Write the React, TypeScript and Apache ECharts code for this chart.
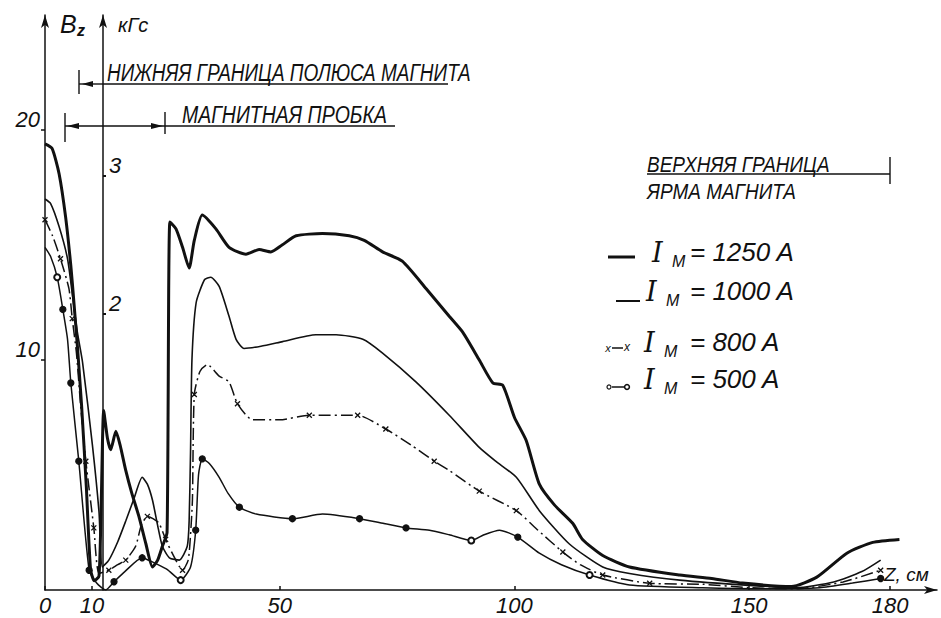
import React, { useEffect, useRef } from "react";
import * as echarts from "echarts";

// z, cm  (x axis) tick labels
const xTickLabels = [0, 10, 50, 100, 150, 180];
// B_z tick labels (left axis)
const yTickLabels = [10, 20];
// kG tick labels (inner axis)
const kgTickLabels = [2, 3];

const seriesNames = ["I_M = 1250 A", "I_M = 1000 A", "I_M = 800 A", "I_M = 500 A"];

// [z, Bz]
const b1250 = [
  [0, 19.4], [1.5, 19.2], [3, 18.1], [4.4, 16.2], [5.5, 14.1], [6.2, 12.4], [6.9, 10.6],
  [7.8, 8.0], [8.8, 4.5], [9.7, 0.9], [10.5, 0.4], [11.5, 0.6], [12.0, 4.0], [12.5, 7.8],
  [13.3, 6.6], [14, 6.1], [15.1, 6.9], [16, 6.3], [17.2, 5.2], [18.5, 4.2], [20, 3.2],
  [21.5, 2.0], [22.9, 1.0], [24, 1.3], [25, 1.9], [26, 2.5], [26.6, 16.0], [27.9, 15.7],
  [29.3, 14.9], [30.7, 14.0], [31.8, 15.2], [33.5, 16.3], [36.4, 15.7], [39.2, 14.9],
  [42.8, 14.6], [45.6, 14.8], [48.1, 14.7], [50.5, 15.0], [53.5, 15.4], [59.1, 15.5],
  [64.8, 15.4], [68, 15.2], [71.9, 14.7], [76.1, 14.3], [81.2, 13.1], [86.1, 11.9],
  [89, 11.2], [92.5, 10.0], [95.4, 9.0], [97.5, 8.9], [100, 7.5], [102.5, 6.5],
  [105.3, 4.6], [108.5, 3.7], [112.4, 2.9], [114.5, 2.2], [118.8, 1.5], [124.5, 1.0],
  [135.2, 0.65], [142, 0.5], [148.6, 0.3], [159, 0.15], [164.4, 0.56], [170.8, 1.6],
  [176.3, 2.07], [182, 2.2],
];

const b1000 = [
  [0, 17.0], [1.2, 16.8], [3, 15.8], [4.8, 14.4], [5.8, 12.9], [6.9, 11.2], [8, 9.9],
  [10.1, 6.3], [11.5, 3.4], [12.2, 1.0], [13.6, 1.3], [15.5, 2.1], [17.2, 3.0], [19, 4.0],
  [20.7, 4.9], [21.8, 4.6], [22.9, 3.9], [24, 2.8], [25, 1.9], [26.5, 1.4], [28.6, 1.3],
  [30.3, 1.9], [30.7, 3.0], [31, 6.0], [31.3, 10.0], [32.2, 12.5], [34, 13.5], [35.3, 13.6],
  [37.1, 13.2], [39.2, 11.9], [40.7, 10.9], [42.4, 10.5], [46, 10.6], [50.6, 10.8],
  [57.7, 11.1], [62, 11.1], [67.7, 10.9], [71.9, 10.3], [79, 9.05], [86.1, 7.6],
  [92.5, 6.2], [96, 5.6], [100.4, 4.9], [105.3, 3.45], [111.7, 2.0], [118.8, 1.0],
  [124.5, 0.72], [135.2, 0.43], [150, 0.2], [160, 0.1], [168, 0.35], [174, 0.8], [178, 1.3],
];

// [z, Bz, marker flag]
const b800 = [
  [0, 16.1, 1], [1.6, 15.4, 0], [3.3, 14.4, 1], [5.1, 13.1, 0], [5.8, 11.8, 1], [6.7, 10.3, 0],
  [7.6, 8.0, 0], [8.7, 5.6, 1], [10.4, 2.7, 1], [11.5, 0.72, 0], [13.6, 0.86, 1],
  [15.5, 1.1, 0], [17.2, 1.3, 1], [19.3, 1.9, 0], [20.5, 2.8, 0], [21.8, 3.2, 1],
  [23, 3.1, 0], [24.3, 2.9, 0], [25.7, 2.2, 1], [27.1, 1.6, 0], [29.3, 0.86, 1],
  [30.5, 1.3, 0], [31, 2.4, 0], [31.4, 3.9, 0], [31.8, 8.5, 1], [33, 9.5, 0], [34.6, 9.8, 0],
  [37.1, 9.3, 0], [39.2, 9.05, 0], [41, 8.1, 1], [44.2, 7.4, 0], [50, 7.4, 0], [56.3, 7.6, 1],
  [66.6, 7.6, 1], [72.6, 7.0, 1], [78, 6.3, 0], [82.9, 5.6, 1], [86.1, 5.2, 0], [92.5, 4.3, 1],
  [100.4, 3.45, 1], [105, 2.6, 0], [110.3, 1.65, 1], [114, 1.1, 0], [118.8, 0.65, 1],
  [128.8, 0.29, 1], [140, 0.25, 0], [150, 0.1, 0], [160, 0.05, 0], [170, 0.35, 0], [178, 0.86, 1],
];

const b500 = [
  [0, 14.9, 0], [1.2, 14.5, 0], [2.6, 13.6, 2], [3.8, 12.2, 1], [4.8, 10.9, 0], [5.5, 9.0, 1],
  [7.2, 5.6, 1], [9.4, 0.86, 1], [11, 0.3, 0], [12.9, 0.0, 0], [14.7, 0.36, 1], [17, 0.8, 0],
  [20.7, 1.4, 1], [22, 1.3, 0], [23.6, 1.15, 0], [26, 0.9, 0], [28.9, 0.43, 2], [31, 1.0, 0],
  [32.1, 2.6, 1], [32.7, 5.0, 0], [33.5, 5.7, 1], [35, 5.5, 0], [37.1, 4.9, 0], [39, 4.2, 0],
  [41.4, 3.6, 1], [45, 3.3, 0], [52.7, 3.1, 1], [59.1, 3.3, 0], [67, 3.1, 1], [72, 2.9, 0],
  [76.9, 2.7, 1], [81.9, 2.6, 0], [86.1, 2.4, 0], [90.8, 2.15, 2], [93.5, 2.4, 0],
  [96.8, 2.6, 0], [100.7, 2.3, 1], [105.3, 1.6, 0], [110, 1.1, 0], [116, 0.65, 2],
  [124.5, 0.22, 0], [140, 0.1, 0], [155, 0.05, 0], [165, 0.1, 0], [172, 0.3, 0], [178, 0.5, 1],
];

const FF = "'Liberation Sans', 'DejaVu Sans', sans-serif";
const font = (size: number, weight = "normal") => `italic ${weight} ${size}px ${FF}`;
const INK = "#111";

const txt = (
  text: string,
  x: number,
  y: number,
  size: number,
  align = "left",
  extra: any = {},
  scaleY = 1
) => ({
  type: "text",
  x,
  y,
  scaleY,
  style: { text, font: font(size), fill: INK, align, verticalAlign: "middle", ...extra },
});
const seg = (x1: number, y1: number, x2: number, y2: number, w = 1.4) => ({
  type: "line",
  shape: { x1, y1, x2, y2 },
  style: { stroke: INK, lineWidth: w },
});

const legendRows = [
  { y: 252, label: "= 1250 A", iX: 652, kind: "thick" },
  { y: 291, label: "= 1000 A", iX: 646, kind: "thin" },
  { y: 342, label: "= 800 A", iX: 644, kind: "x" },
  { y: 379, label: "= 500 A", iX: 644, kind: "o" },
];

function legendGraphics() {
  const out: any[] = [];
  legendRows.forEach((r) => {
    if (r.kind === "thick") out.push(seg(608, r.y + 5, 635, r.y + 5, 3));
    if (r.kind === "thin") out.push(seg(616, r.y + 10, 640, r.y + 10, 2));
    if (r.kind === "x") {
      out.push(seg(612, r.y + 6, 623, r.y + 6, 1.5));
      out.push(txt("x", 608, r.y + 6, 11, "center"));
      out.push(txt("x", 627, r.y + 5, 12, "center"));
    }
    if (r.kind === "o") {
      out.push(seg(612, r.y + 8, 624, r.y + 8, 1.5));
      out.push({ type: "circle", shape: { cx: 609, cy: r.y + 8, r: 2 }, style: { stroke: INK, fill: "#fff", lineWidth: 1.2 } });
      out.push({ type: "circle", shape: { cx: 627, cy: r.y + 8, r: 2.4 }, style: { stroke: INK, fill: "#fff", lineWidth: 1.6 } });
    }
    out.push(txt("I", r.iX, r.y, 27, "left", { font: "italic normal 27px 'DejaVu Serif', serif" }));
    out.push(txt("M", r.iX + 20, r.y + 9, 16, "left"));
    out.push(txt(r.label, 690, r.y, 26, "left"));
  });
  return out;
}

const option: any = {
  animation: false,
  backgroundColor: "#fff",
  grid: { left: 45, right: 4, top: 15, bottom: 28, containLabel: false },
  xAxis: {
    type: "value",
    min: 0,
    max: 190,
    axisLine: { lineStyle: { color: INK, width: 1.5 }, symbol: ["none", "arrow"], symbolSize: [6, 13] },
    axisTick: { customValues: xTickLabels, inside: true, length: 4, lineStyle: { color: INK, width: 1.5 } },
    axisLabel: {
      customValues: xTickLabels,
      color: INK,
      fontSize: 22,
      fontStyle: "italic",
      fontFamily: FF,
      margin: 4,
    },
    splitLine: { show: false },
  },
  yAxis: [
    {
      type: "value",
      min: 0,
      max: 25,
      axisLine: { show: true, lineStyle: { color: INK, width: 1.5 }, symbol: ["none", "arrow"], symbolSize: [6, 13] },
      axisTick: { show: true, customValues: yTickLabels, length: 4, lineStyle: { color: INK, width: 1.5 } },
      axisLabel: {
        customValues: yTickLabels,
        color: INK,
        fontSize: 22,
        fontStyle: "italic",
        fontFamily: FF,
        margin: 5,
        verticalAlign: "bottom",
      },
      splitLine: { show: false },
    },
    {
      type: "value",
      position: "left",
      offset: -58,
      min: 0,
      max: 25 / 6,
      axisLine: { show: true, onZero: false, lineStyle: { color: INK, width: 1.5 }, symbol: ["none", "arrow"], symbolSize: [6, 13] },
      axisTick: { show: true, customValues: kgTickLabels, inside: true, length: 3, lineStyle: { color: INK, width: 2 } },
      axisLabel: {
        customValues: kgTickLabels,
        inside: true,
        color: INK,
        fontSize: 22,
        fontStyle: "italic",
        fontFamily: FF,
        margin: 6,
        verticalAlign: "bottom",
      },
      splitLine: { show: false },
    },
  ],
  series: [
    {
      name: seriesNames[3],
      type: "line",
      data: b500,
      smooth: 0.2,
      showAllSymbol: true,
      symbol: (v: number[]) => (v[2] === 1 ? "circle" : v[2] === 2 ? "emptyCircle" : "none"),
      symbolSize: 6,
      lineStyle: { color: INK, width: 1.5 },
      itemStyle: { color: INK, borderColor: INK, borderWidth: 1.3 },
      z: 2,
    },
    {
      name: seriesNames[2],
      type: "line",
      data: b800,
      smooth: 0.2,
      showAllSymbol: true,
      symbol: (v: number[]) => (v[2] === 1 ? "path://M0,0L10,10M10,0L0,10" : "none"),
      symbolSize: 5,
      lineStyle: { color: INK, width: 1.5, type: [12, 4, 2, 4] },
      itemStyle: { color: "none", borderColor: INK, borderWidth: 1.3 },
      z: 3,
    },
    {
      name: seriesNames[1],
      type: "line",
      data: b1000,
      smooth: 0.2,
      showSymbol: false,
      lineStyle: { color: INK, width: 1.6 },
      z: 4,
    },
    {
      name: seriesNames[0],
      type: "line",
      data: b1250,
      smooth: 0.2,
      showSymbol: false,
      lineStyle: { color: INK, width: 3 },
      z: 5,
    },
  ],
  graphic: [
    // axis titles
    txt("B", 60, 24, 25, "left"),
    txt("z", 77, 30, 16, "left", { font: font(16, "bold") }),
    txt("кГс", 118, 25, 20, "left"),
    // lower boundary of the magnet pole
    seg(79, 70, 79, 94),
    seg(79, 84, 103, 84),
    { type: "polygon", shape: { points: [[82, 84], [93, 81], [93, 87]] }, style: { fill: INK } },
    seg(103, 84, 448, 84),
    txt("НИЖНЯЯ ГРАНИЦА ПОЛЮСА МАГНИТА", 107, 73, 19, "left", {}, 1.25),
    // magnetic plug
    seg(65, 113, 65, 142),
    seg(165, 112, 165, 134),
    seg(65, 126, 165, 126),
    { type: "polygon", shape: { points: [[67, 126], [79, 123], [79, 129]] }, style: { fill: INK } },
    { type: "polygon", shape: { points: [[163, 126], [151, 123], [151, 129]] }, style: { fill: INK } },
    seg(165, 126, 395, 126),
    txt("МАГНИТНАЯ ПРОБКА", 182, 115, 19.5, "left", {}, 1.25),
    // upper boundary of the magnet yoke
    txt("ВЕРХНЯЯ ГРАНИЦА", 647, 164, 19, "left", {}, 1.2),
    seg(647, 174, 890, 174),
    seg(890, 157, 890, 184),
    txt("ЯРМА МАГНИТА", 647, 191, 19, "left", {}, 1.2),
    // axis name
    txt("Z, см", 884, 574, 19),
    ...legendGraphics(),
  ],
};

export default function App() {
  const ref = useRef<HTMLDivElement>(null);
  useEffect(() => {
    const chart = echarts.init(ref.current as HTMLDivElement, null, { renderer: "svg" });
    chart.setOption(option);
    return () => chart.dispose();
  }, []);
  return (
    <div
      ref={ref}
      style={{ position: "absolute", left: 0, top: 0, width: 941, height: 618, background: "#fff" }}
    />
  );
}
